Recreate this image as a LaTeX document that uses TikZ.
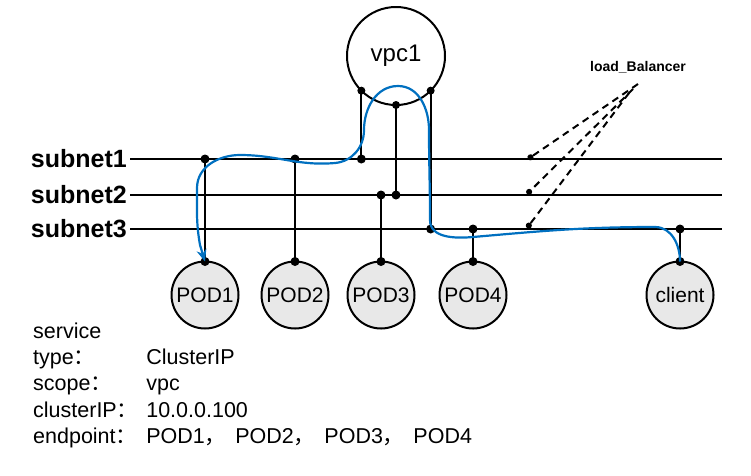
\documentclass[tikz,border=0pt]{standalone}
\usepackage{fontspec}
\setmainfont{Liberation Sans}
\newfontfamily\cjk{Noto Sans CJK SC}
\usepackage{tikz}
\usetikzlibrary{arrows.meta, positioning}
\definecolor{podgray}{RGB}{232,232,232}
\definecolor{routeblue}{RGB}{0,112,192}

\begin{document}
\begin{tikzpicture}[x=1pt, y=-1pt,
  wire/.style={line width=2pt},
  hub/.style={circle, draw, line width=2pt, fill=white, minimum size=98pt, inner sep=0pt, outer sep=0pt, font=\fontsize{24}{28}\selectfont},
  pod/.style={circle, draw, line width=2pt, fill=podgray, minimum size=67pt, inner sep=0pt, outer sep=0pt, font=\fontsize{21}{25}\selectfont},
  net/.style={anchor=east, inner xsep=3pt, inner ysep=0pt, font=\bfseries\fontsize{25}{29}\selectfont},
  lbline/.style={line width=2pt, dash pattern=on 7pt off 5pt, -{Circle[length=6pt]}},
  route/.style={draw=routeblue, line width=2.2pt, -{Stealth[length=12pt, width=10pt]}}
]
  \useasboundingbox (0,0) rectangle (751,475);

  \node[hub] (vpc) at (396,56) {vpc1};
  \node[pod] (pod1) at (205,295) {POD1};
  \node[pod] (pod2) at (295,295) {POD2};
  \node[pod] (pod3) at (381,295) {POD3};
  \node[pod] (pod4) at (473,295) {POD4};
  \node[pod] (client) at (680,295) {client};

  % subnets
  \node[net] (sn1) at (130,159) {subnet1};
  \node[net] (sn2) at (130,195) {subnet2};
  \node[net] (sn3) at (130,229) {subnet3};
  \coordinate (sn1e) at (722,159);
  \coordinate (sn2e) at (722,195);
  \coordinate (sn3e) at (722,229);
  \draw[wire] (sn1.east) -- (sn1e);
  \draw[wire] (sn2.east) -- (sn2e);
  \draw[wire] (sn3.east) -- (sn3e);

  % attachments
  \coordinate (j1) at (pod1.north |- sn1.east);
  \coordinate (j2) at (pod2.north |- sn1.east);
  \coordinate (j3) at (pod3.north |- sn2.east);
  \coordinate (j4) at (pod4.north |- sn3.east);
  \coordinate (j5) at (client.north |- sn3.east);
  \coordinate (v1) at (vpc.-135 |- sn1.east);
  \coordinate (v2) at (vpc.south |- sn2.east);
  \coordinate (v3) at (vpc.-45 |- sn3.east);
  \draw[wire] (pod1.north) -- (j1);
  \draw[wire] (pod2.north) -- (j2);
  \draw[wire] (pod3.north) -- (j3);
  \draw[wire] (pod4.north) -- (j4);
  \draw[wire] (client.north) -- (j5);
  \draw[wire] (vpc.-135) -- (v1);
  \draw[wire] (vpc.south) -- (v2);
  \draw[wire] (vpc.-45) -- (v3);
  \foreach \p in {j1,j2,j3,j4,j5,v1,v2,v3,pod1.north,pod2.north,pod3.north,pod4.north,client.north}
    \fill (\p) circle (4.5pt);
  \foreach \p in {vpc.-135,vpc.south,vpc.-45}
    \fill (\p) circle (4pt);

  % load balancer
  \node[font=\bfseries\fontsize{14}{16}\selectfont] (lb) at (638,67) {load\_Balancer};
  \coordinate (lbs1) at (638,84);
  \coordinate (lbs2) at (633,89);
  \coordinate (lbs3) at (629,93);
  \coordinate (lb1) at (528,159);
  \coordinate (lb2) at (527,194);
  \coordinate (lb3) at (527,228);
  \draw[lbline] (lbs1) -- (lb1);
  \draw[lbline] (lbs2) -- (lb2);
  \draw[lbline] (lbs3) -- (lb3);

  % request path client -> pod1
  \draw[route] (client.north) to[out=90, in=0] (655,227)
    to[out=180, in=5] (473,237)
    to[out=185, in=-90] (430,220)
    to[out=90, in=-90] (429,130)
    to[out=90, in=0] (398,86)
    to[out=180, in=90] (364,130)
    to[out=-90, in=5] (335,163)
    to[out=185, in=0] (240,155)
    to[out=180, in=90] (197,188)
    to[out=-90, in=100] (200,245) -- (pod1.north);

  % service info
  \node[anchor=north west, inner sep=0pt, font=\fontsize{21.5}{26.2}\selectfont] (svc) at (33,320) {%
    \begin{tabular}{@{}l@{\hspace{8pt}}l@{}}
      service & \\
      type{\cjk ：} & ClusterIP \\
      scope{\cjk ：} & vpc \\
      clusterIP{\cjk ：} & 10.0.0.100 \\
      endpoint{\cjk ：} & POD1{\cjk ，}\hspace{9pt}POD2{\cjk ，}\hspace{9pt}POD3{\cjk ，}\hspace{9pt}POD4
    \end{tabular}};
\end{tikzpicture}
\end{document}
